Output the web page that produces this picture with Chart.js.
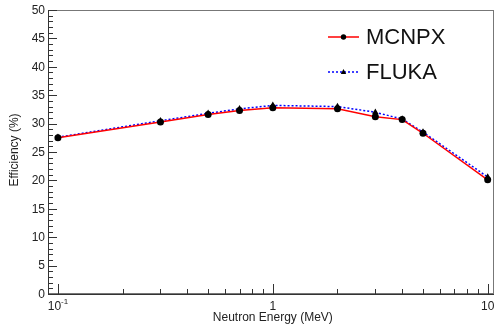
<!DOCTYPE html>
<html lang="en">
<head>
    <meta charset="UTF-8">
    <title>Efficiency vs Neutron Energy</title>
    <script src="https://cdn.jsdelivr.net/npm/chart.js"></script>
    <style>
        body { margin: 0; padding: 0; background: #ffffff; overflow: hidden; }
        canvas { display: block; }
    </style>
</head>
<body>
    <canvas id="effChart" width="498" height="325"></canvas>

    <script>
        // Neutron energy points (MeV)
        const energies = [0.1, 0.3, 0.5, 0.7, 1, 2, 3, 4, 5, 10];
        // Efficiency (%)
        const mcnpx = [27.5, 30.3, 31.6, 32.3, 32.8, 32.6, 31.2, 30.7, 28.3, 20.1];
        const fluka = [27.6, 30.5, 31.8, 32.6, 33.2, 33.0, 32.0, 30.8, 28.5, 20.6];
        // Axis ticks
        const yMajorTicks = [0, 5, 10, 15, 20, 25, 30, 35, 40, 45, 50];
        const xMajorTicks = [0.1, 1, 10];
        const xTickLabels = [['10', '-1'], ['1', ''], ['10', '']];

        const toPoints = (ys) => energies.map((x, i) => ({ x: x, y: ys[i] }));

        const FONT = "'Liberation Sans', Arial, Helvetica, sans-serif";

        // ROOT-style frame, inside ticks, labels, titles and legend
        const rootStyle = {
            id: 'rootStyle',
            afterDatasetsDraw(chart) {
                const ctx = chart.ctx;
                const area = chart.chartArea;
                const xs = chart.scales.x;
                const ys = chart.scales.y;
                ctx.save();

                // frame
                ctx.strokeStyle = '#777';
                ctx.lineWidth = 1;
                ctx.strokeRect(area.left + 0.5, area.top + 0.5, area.right - area.left - 1, area.bottom - area.top - 1);
                ctx.strokeStyle = '#333';
                ctx.beginPath();
                ctx.moveTo(area.left + 0.5, area.top);
                ctx.lineTo(area.left + 0.5, area.bottom + 0.5);
                ctx.lineTo(area.right, area.bottom + 0.5);
                ctx.stroke();

                // y ticks (major every 5, minor every 1)
                ctx.strokeStyle = '#333';
                ctx.beginPath();
                for (let v = 0; v <= 50; v++) {
                    const py = Math.round(ys.getPixelForValue(v)) + 0.5;
                    const len = v % 5 === 0 ? 9 : 5;
                    ctx.moveTo(area.left, py);
                    ctx.lineTo(area.left + len, py);
                }
                // x ticks (decades major, 2..9 minor)
                for (let d = 0.1; d <= 10; d *= 10) {
                    for (let m = 1; m <= 9; m++) {
                        const v = d * m;
                        if (v > xs.max || v < xs.min) continue;
                        const px = Math.round(xs.getPixelForValue(v)) + 0.5;
                        const len = m === 1 ? 10 : 5;
                        ctx.moveTo(px, area.bottom);
                        ctx.lineTo(px, area.bottom - len);
                    }
                }
                ctx.stroke();

                // y tick labels
                ctx.fillStyle = '#222';
                ctx.font = '12px ' + FONT;
                ctx.textAlign = 'right';
                ctx.textBaseline = 'middle';
                yMajorTicks.forEach(v => {
                    ctx.fillText(String(v), area.left - 3, ys.getPixelForValue(v) + 0.5);
                });

                // x tick labels
                xMajorTicks.forEach((v, i) => {
                    const px = xs.getPixelForValue(v);
                    const base = xTickLabels[i][0];
                    const sup = xTickLabels[i][1];
                    ctx.font = '12px ' + FONT;
                    const wb = ctx.measureText(base).width;
                    ctx.font = '8px ' + FONT;
                    const ws = sup ? ctx.measureText(sup).width : 0;
                    const start = px - (wb + ws) / 2;
                    ctx.textAlign = 'left';
                    ctx.textBaseline = 'alphabetic';
                    ctx.font = '12px ' + FONT;
                    ctx.fillText(base, start, area.bottom + 16);
                    if (sup) {
                        ctx.font = '8px ' + FONT;
                        ctx.fillText(sup, start + wb, area.bottom + 10);
                    }
                });

                // axis titles
                ctx.font = '12px ' + FONT;
                ctx.textAlign = 'center';
                ctx.textBaseline = 'middle';
                ctx.fillText('Neutron Energy (MeV)', xs.getPixelForValue(1), area.bottom + 24);
                ctx.save();
                ctx.translate(15, 150);
                ctx.rotate(-Math.PI / 2);
                ctx.fillText('Efficiency (%)', 0, 0);
                ctx.restore();

                // legend
                const entries = chart.data.datasets;
                entries.forEach((ds, i) => {
                    const ly = 37 + i * 35;
                    const x0 = 328, x1 = 359;
                    ctx.strokeStyle = ds.borderColor;
                    ctx.lineWidth = ds.borderWidth;
                    ctx.setLineDash(ds.borderDash || []);
                    ctx.beginPath();
                    ctx.moveTo(x0, ly);
                    ctx.lineTo(x1, ly);
                    ctx.stroke();
                    ctx.setLineDash([]);
                    ctx.fillStyle = '#000';
                    ctx.beginPath();
                    const cx = (x0 + x1) / 2;
                    if (ds.pointStyle === 'triangle') {
                        ctx.moveTo(cx, ly - 3);
                        ctx.lineTo(cx + 2.7, ly + 2);
                        ctx.lineTo(cx - 2.7, ly + 2);
                        ctx.closePath();
                    } else {
                        ctx.arc(cx, ly, 2.7, 0, Math.PI * 2);
                    }
                    ctx.fill();
                    ctx.fillStyle = '#111';
                    ctx.font = '22px ' + FONT;
                    ctx.textAlign = 'left';
                    ctx.textBaseline = 'middle';
                    ctx.fillText(ds.label, 366, ly + 1);
                });

                ctx.restore();
            }
        };

        const ctx = document.getElementById('effChart').getContext('2d');
        const effChart = new Chart(ctx, {
            type: 'line',
            data: {
                datasets: [{
                    label: 'MCNPX',
                    data: toPoints(mcnpx),
                    borderColor: '#ff0000',
                    borderWidth: 1.5,
                    pointStyle: 'circle',
                    pointRadius: 3.5,
                    pointBackgroundColor: '#000',
                    pointBorderColor: '#000',
                    pointBorderWidth: 0,
                    tension: 0,
                    fill: false
                }, {
                    label: 'FLUKA',
                    data: toPoints(fluka),
                    borderColor: '#0000ff',
                    borderWidth: 1.5,
                    borderDash: [2, 2],
                    pointStyle: 'triangle',
                    pointRadius: 3.8,
                    pointBackgroundColor: '#000',
                    pointBorderColor: '#000',
                    pointBorderWidth: 0,
                    tension: 0,
                    fill: false
                }]
            },
            options: {
                responsive: false,
                animation: false,
                layout: {
                    padding: { left: 48, top: 10, right: 2, bottom: 31 }
                },
                plugins: {
                    legend: { display: false },
                    tooltip: { enabled: false }
                },
                scales: {
                    x: {
                        type: 'logarithmic',
                        min: 0.0899,
                        max: 10.7,
                        display: false
                    },
                    y: {
                        type: 'linear',
                        min: 0,
                        max: 50,
                        display: false
                    }
                }
            },
            plugins: [rootStyle]
        });
    </script>
</body>
</html>
